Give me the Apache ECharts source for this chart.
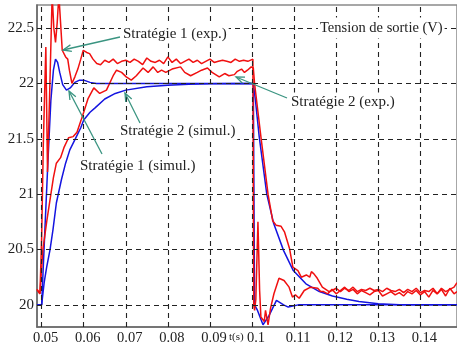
<!DOCTYPE html>
<html><head><meta charset="utf-8">
<script src="https://cdn.jsdelivr.net/npm/echarts@6/dist/echarts.min.js"></script>
<style>html,body{margin:0;padding:0;background:#fff}#c{width:457px;height:349px}</style>
</head><body><div id="c"></div>
<script>
const xTicks = [0.05,0.06,0.07,0.08,0.09,0.1,0.11,0.12,0.13,0.14];
const yTicks = [20,20.5,21,21.5,22,22.5];

// Stratégie 1 (simul.)
const sim1 = [[0.0489,20.0],[0.0500,20.0],[0.0508,20.7],[0.0515,21.3],[0.0522,21.85],[0.0528,22.12],[0.0533,22.22],[0.0538,22.19],[0.0543,22.1],[0.0550,21.99],[0.0559,21.94],[0.0568,21.96],[0.0579,22.01],[0.0590,22.03],[0.0600,22.03],[0.0615,22.01],[0.0630,22.0],[0.0700,22.0],[0.0800,22.0],[0.0900,22.0],[0.1003,22.0],[0.1006,20.0],[0.1013,19.95],[0.1026,19.82],[0.1040,19.9],[0.1058,20.04],[0.1075,20.0],[0.1086,19.98],[0.1110,20.0],[0.1300,20.0],[0.1490,20.0]];

// Stratégie 2 (simul.)
const sim2 = [[0.0489,20.0],[0.0500,20.0],[0.0506,20.2],[0.0512,20.34],[0.0520,20.5],[0.0527,20.68],[0.0535,20.92],[0.0547,21.13],[0.0557,21.28],[0.0567,21.4],[0.0580,21.5],[0.0593,21.6],[0.0600,21.67],[0.0615,21.74],[0.0627,21.78],[0.0650,21.86],[0.0675,21.91],[0.0700,21.94],[0.0750,21.97],[0.0800,21.985],[0.0850,21.993],[0.0900,21.997],[0.1003,22.0],[0.1008,21.85],[0.1017,21.52],[0.1035,21.0],[0.1051,20.74],[0.1075,20.49],[0.1098,20.31],[0.1128,20.19],[0.1160,20.12],[0.1191,20.08],[0.1225,20.05],[0.1254,20.03],[0.1300,20.01],[0.1350,20.0],[0.1490,20.0]];

// Stratégie 1 (exp.)
const exp1 = [[0.0489,20.14],[0.0496,20.1],[0.0500,20.6],[0.0504,21.45],[0.0510,22.33],[0.0514,21.2],[0.0519,21.9],[0.0525,22.8],[0.0529,22.5],[0.0533,22.37],[0.0537,22.55],[0.0541,22.8],[0.0545,22.55],[0.0549,22.3],[0.0557,22.24],[0.0562,22.22],[0.0566,22.12],[0.0572,22.0],[0.0579,22.06],[0.0586,22.13],[0.0593,22.22],[0.0599,22.3],[0.0607,22.28],[0.0614,22.27],[0.0622,22.22],[0.0631,22.18],
[0.064,22.17],[0.065,22.21],[0.066,22.19],[0.067,22.22],[0.068,22.18],[0.069,22.2],[0.070,22.21],[0.071,22.19],[0.072,22.22],[0.073,22.2],[0.074,22.17],[0.075,22.23],[0.076,22.2],[0.077,22.19],[0.078,22.21],[0.079,22.18],[0.080,22.24],[0.081,22.19],[0.082,22.22],[0.083,22.18],[0.084,22.2],[0.085,22.22],[0.086,22.19],[0.087,22.21],[0.088,22.18],[0.089,22.2],[0.090,22.22],[0.091,22.19],[0.092,22.2],[0.093,22.21],[0.094,22.2],[0.095,22.19],[0.096,22.22],[0.097,22.2],[0.098,22.21],[0.099,22.2],[0.1002,22.22],
[0.1004,20.0],[0.1006,19.95],[0.1009,20.05],[0.1014,20.75],[0.1018,20.13],[0.1021,19.89],[0.1029,19.85],[0.1032,19.95],[0.1038,19.82],[0.1044,19.97],[0.1052,20.1],[0.1064,20.24],[0.1076,20.22],[0.1088,20.16],[0.1096,20.07],[0.1103,20.09],[0.1112,20.06],[0.1124,20.13],[0.1139,20.16],[0.1156,20.15],[0.1163,20.12],
[0.117,20.12],[0.118,20.1],[0.119,20.14],[0.120,20.1],[0.121,20.13],[0.122,20.16],[0.123,20.12],[0.124,20.14],[0.125,20.1],[0.126,20.13],[0.127,20.11],[0.128,20.09],[0.129,20.12],[0.130,20.13],[0.131,20.08],[0.132,20.1],[0.133,20.12],[0.134,20.09],[0.135,20.11],[0.136,20.08],[0.137,20.12],[0.138,20.1],[0.139,20.13],[0.140,20.09],[0.141,20.12],[0.142,20.07],[0.143,20.13],[0.144,20.1],[0.145,20.14],[0.146,20.08],[0.147,20.15],[0.148,20.1],[0.1487,20.12]];

// Stratégie 2 (exp.)
const exp2 = [[0.0489,20.14],[0.0496,20.1],[0.0503,20.5],[0.0512,20.75],[0.0520,20.95],[0.0528,21.15],[0.0535,21.28],[0.0545,21.33],[0.0553,21.42],[0.0564,21.51],[0.0575,21.52],[0.0584,21.56],[0.0593,21.66],[0.0600,21.74],[0.0610,21.86],[0.0624,21.96],[0.0638,21.91],[0.0654,21.94],[0.0670,22.07],[0.0678,22.12],[0.0690,22.1],[0.0701,22.06],[0.0713,22.03],[0.0725,22.07],[0.0741,22.14],[0.0753,22.1],[0.0765,22.15],[0.0776,22.1],[0.0785,22.12],[0.0795,22.1],[0.0810,22.13],[0.0830,22.15],[0.0840,22.1],[0.0854,22.07],[0.0870,22.1],[0.0880,22.12],[0.0894,22.14],[0.0905,22.1],[0.0922,22.06],[0.0935,22.09],[0.0945,22.07],[0.0958,22.08],[0.0965,22.11],[0.0975,22.13],[0.0982,22.1],[0.0989,22.12],[0.0998,22.15],[0.1003,22.14],
[0.1006,22.0],[0.1021,21.52],[0.1038,21.0],[0.1049,20.76],[0.1057,20.72],[0.1069,20.71],[0.1077,20.66],[0.1089,20.51],[0.1097,20.34],[0.1109,20.31],[0.1117,20.25],[0.1129,20.27],[0.1137,20.25],[0.1141,20.3],[0.1147,20.28],[0.1155,20.24],[0.1167,20.16],[0.1183,20.12],
[0.119,20.13],[0.120,20.15],[0.121,20.12],[0.122,20.15],[0.123,20.13],[0.124,20.16],[0.125,20.12],[0.126,20.14],[0.127,20.13],[0.128,20.15],[0.129,20.13],[0.130,20.14],[0.131,20.12],[0.132,20.15],[0.133,20.13],[0.134,20.12],[0.135,20.14],[0.136,20.11],[0.137,20.14],[0.138,20.12],[0.139,20.15],[0.140,20.11],[0.141,20.13],[0.142,20.12],[0.143,20.15],[0.144,20.1],[0.145,20.15],[0.146,20.12],[0.147,20.14],[0.148,20.16],[0.1487,20.2]];

const yTitle = 'Tension de sortie (V)';
const xTitle = 't(s)';
const notes = ['Stratégie 1 (exp.)','Stratégie 2 (exp.)','Stratégie 2 (simul.)','Stratégie 1 (simul.)'];

const FONT = '"Liberation Serif", "Times New Roman", serif';
const TEAL = '#3a9481';
const RED = '#f01010';
const BLUE = '#1414e0';

function arrow(x1,y1,x2,y2){
  const a = Math.atan2(y2-y1, x2-x1), L = 9, w = 0.38;
  return [
    {type:'line', z:101, shape:{x1:x1,y1:y1,x2:x2,y2:y2}, style:{stroke:TEAL, lineWidth:1.3}},
    {type:'polyline', z:101, shape:{points:[[x2-L*Math.cos(a-w), y2-L*Math.sin(a-w)],[x2,y2],[x2-L*Math.cos(a+w), y2-L*Math.sin(a+w)]]}, style:{stroke:TEAL, lineWidth:1.3, fill:null}}
  ];
}
function txt(s, x, y, size, extra){
  return {type:'text', z:100, x:x, y:y, style:Object.assign({text:s, font: size+'px '+FONT, fill:'#222', textAlign:'left', textVerticalAlign:'middle'}, extra||{})};
}
const BOX = {backgroundColor:'#fff', padding:[2,2,2,2]};

const fmt = v => String(parseFloat(Number(v).toFixed(4)));

const chart = echarts.init(document.getElementById('c'), null, {renderer:'canvas'});
const lineSeries = (name, data, color) => ({
  name, type:'line', data, showSymbol:false, symbol:'none', z:3, clip:true,
  lineStyle:{color, width:1.5}, silent:true
});

chart.setOption({
  animation:false,
  backgroundColor:'#fff',
  grid:{left:37, top:5, right:-1, bottom:22, show:true, borderColor:'#8a8a8a', borderWidth:1.5},
  xAxis:{type:'value', min:0.0489, max:0.1487,
    axisLine:{show:true, lineStyle:{color:'#666', width:1.5}},
    axisTick:{show:false}, splitLine:{show:false},
    axisLabel:{customValues:xTicks, formatter:fmt, fontFamily:'"Liberation Serif"', fontSize:14.5, color:'#222', margin:4, padding:[0,0,0,8]}},
  yAxis:{type:'value', min:19.8, max:22.709,
    axisLine:{show:true, lineStyle:{color:'#666', width:1.5}},
    axisTick:{show:false}, splitLine:{show:false},
    axisLabel:{customValues:yTicks, formatter:fmt, fontFamily:'"Liberation Serif"', fontSize:15, color:'#222', margin:3, padding:[3,0,0,0]}},
  series:[
    {type:'line', data:[[0.05,20]], showSymbol:false, lineStyle:{opacity:0}, z:1, silent:true,
     markLine:{silent:true, symbol:['none','none'], label:{show:false}, animation:false,
       lineStyle:{type:[5,4], color:'#222', width:1.1},
       data:[...xTicks.map(v=>({xAxis:v})), ...yTicks.map(v=>({yAxis:v}))]}},
    lineSeries('Stratégie 1 (simul.)', sim1, BLUE),
    lineSeries('Stratégie 2 (simul.)', sim2, BLUE),
    lineSeries('Stratégie 1 (exp.)', exp1, RED),
    lineSeries('Stratégie 2 (exp.)', exp2, RED)
  ],
  graphic:[
    txt(yTitle, 318, 28, 14.5, {backgroundColor:'#fff', padding:[3,2,3,2]}),
    txt(xTitle, 229, 337, 11),
    txt(notes[0], 121, 34, 15, BOX),
    txt(notes[1], 289, 102, 15, BOX),
    txt(notes[2], 118, 131, 15, BOX),
    txt(notes[3], 78, 166, 15, BOX),
    ...arrow(120, 37, 63, 50),
    ...arrow(287, 98, 236, 77),
    ...arrow(140, 123, 125, 93),
    ...arrow(102, 154, 69, 91)
  ]
});
</script></body></html>
